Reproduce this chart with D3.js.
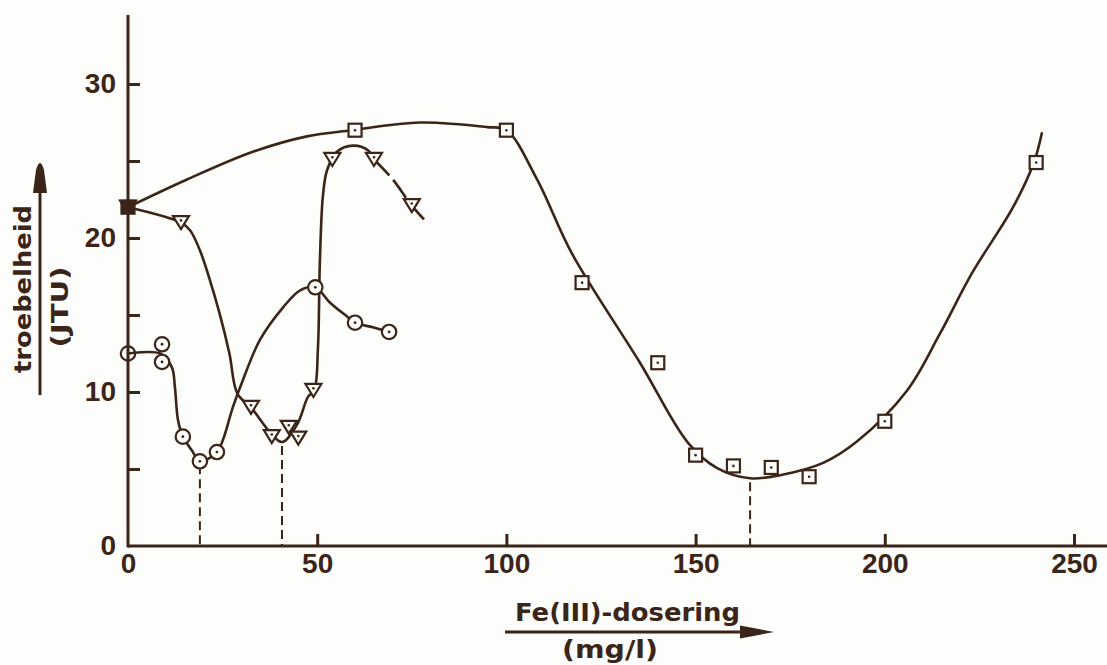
<!DOCTYPE html>
<html>
<head>
<meta charset="utf-8">
<script src="https://cdn.jsdelivr.net/npm/d3@7"></script>
<style>
  html, body { margin: 0; padding: 0; background: #fdfdfb; }
  svg { display: block; }
</style>
</head>
<body>
<svg id="chart" width="1107" height="665"></svg>
<script>
// Turbidity (JTU) of three water samples against the Fe(III) dose (mg/l)

// measured points, square series
const squareDose = [0, 60, 100, 120, 140, 150, 160, 170, 180, 200, 240];
const squareJTU  = [22.0, 27.0, 27.0, 17.1, 11.9, 5.9, 5.2, 5.1, 4.5, 8.1, 24.9];

// measured points, triangle series
const triangleDose = [0, 14, 32.5, 38, 42.5, 45, 49, 54, 65, 75];
const triangleJTU  = [22.0, 21.0, 9.0, 7.1, 7.7, 7.0, 10.1, 25.1, 25.1, 22.1];

// measured points, circle series
const circleDose = [0, 9, 9, 14.5, 19, 23.5, 49.5, 60, 69];
const circleJTU  = [12.5, 13.1, 11.95, 7.1, 5.5, 6.1, 16.8, 14.5, 13.9];

// hand-faired curves through the measurements
const squareCurveDose = [0, 15.6, 33, 47.3, 59.2, 77.2, 94.9, 100, 108.1, 117.3, 135.3, 148, 155.7, 164.4, 172.3, 183.7, 192.7, 205.9, 214.6, 223, 233.9, 239.4, 241.5];
const squareCurveJTU  = [22.0, 23.8, 25.6, 26.6, 27.0, 27.5, 27.2, 27.0, 23.8, 19.0, 11.9, 6.7, 5.06, 4.4, 4.6, 5.4, 6.8, 10.1, 13.8, 17.7, 22.0, 24.9, 26.8];

const triangleCurveDose = [0, 14, 16.4, 19.0, 21.6, 24.2, 26.8, 28.9, 32.5, 37.5, 40.7, 44.7, 47.6, 49.2, 50.2, 50.7, 51.5, 52.6, 55.2, 59.5, 63.4, 65];
const triangleCurveJTU  = [22.0, 21.0, 20.5, 19.2, 17.3, 15.1, 12.5, 9.9, 9.0, 7.4, 6.75, 7.9, 9.7, 10.1, 12.9, 18.4, 22.7, 24.4, 25.6, 26.0, 25.7, 25.1];

// uncertain continuation of the triangle curve (dashed)
const triangleTailDose = [65, 70, 75, 79];
const triangleTailJTU  = [25.1, 23.8, 22.1, 21.0];

const circleCurveDose = [0, 8.5, 11.6, 12.4, 13.2, 14.5, 16.9, 19.0, 23.5, 25.1, 27.7, 30.4, 34.9, 41.0, 45.5, 49.4, 53.4, 57.9, 60, 64.7, 69.2];
const circleCurveJTU  = [12.5, 12.5, 11.6, 10.3, 8.2, 7.1, 6.2, 5.5, 6.1, 6.9, 9.0, 10.8, 13.4, 15.5, 16.6, 16.8, 15.8, 14.9, 14.5, 14.2, 13.9];

// optimum doses, marked by dashed drop lines
const optimumDose = [19, 40.7, 164.4];
const optimumJTU  = [5.5, 6.75, 4.4];

// axis ticks and labels
const xTickValues = [0, 50, 100, 150, 200, 250];
const yTickValues = [0, 5, 10, 15, 20, 25, 30];
const yTickLabels = [0, 10, 20, 30];

const INK = "#3b2518";
const PAPER = "#fdfdfb";
const FONT = "'Liberation Sans', Arial, Helvetica, sans-serif";
const TITLE_FONT = "'DejaVu Sans', Verdana, sans-serif";

const svg = d3.select("#chart");
svg.append("rect").attr("width", 1107).attr("height", 665).attr("fill", PAPER);

const x = d3.scaleLinear().domain([0, 250]).range([128, 1074]);
const y = d3.scaleLinear().domain([0, 30]).range([546, 84]);

// ---- axes ----
const xAxis = d3.axisBottom(x)
  .tickValues(xTickValues)
  .tickSize(-12)
  .tickSizeOuter(0)
  .tickPadding(7)
  .tickFormat(d3.format("d"));

const yAxis = d3.axisLeft(y)
  .tickValues(yTickValues)
  .tickSize(-12)
  .tickSizeOuter(0)
  .tickPadding(12)
  .tickFormat(d => yTickLabels.includes(d) ? String(d) : "");

const gx = svg.append("g").attr("transform", `translate(0,${y(0)})`).call(xAxis);
const gy = svg.append("g").attr("transform", `translate(${x(0)},0)`).call(yAxis);

[gx, gy].forEach(g => {
  g.select(".domain").remove();
  g.selectAll(".tick line").attr("stroke", INK).attr("stroke-width", 3);
  g.selectAll(".tick text")
    .attr("fill", INK)
    .style("font-family", FONT)
    .style("font-weight", "bold")
    .style("font-size", "28px");
});
gx.selectAll(".tick").filter(d => d === 0).select("line").remove();
gy.selectAll(".tick").filter(d => d === 0).select("line").remove();

// ---- drop lines at the optimum doses ----
svg.append("g").selectAll("line")
  .data(d3.zip(optimumDose, optimumJTU))
  .join("line")
  .attr("x1", d => x(d[0])).attr("x2", d => x(d[0]))
  .attr("y1", d => y(d[1]) + 4).attr("y2", y(0))
  .attr("stroke", INK).attr("stroke-width", 2)
  .attr("stroke-dasharray", "9,5");

// ---- curves ----
const line = d3.line()
  .x(d => x(d[0]))
  .y(d => y(d[1]))
  .curve(d3.curveCatmullRom.alpha(0.5));

const curves = svg.append("g").attr("fill", "none").attr("stroke", INK)
  .attr("stroke-width", 2.6).attr("stroke-linecap", "round").attr("stroke-linejoin", "round");

curves.append("path").attr("d", line(d3.zip(squareCurveDose, squareCurveJTU)));
curves.append("path").attr("d", line(d3.zip(triangleCurveDose, triangleCurveJTU)));
curves.append("path").attr("d", line(d3.zip(circleCurveDose, circleCurveJTU)));
curves.append("path").attr("d", line(d3.zip(triangleTailDose, triangleTailJTU)))
  .attr("stroke-dasharray", "22,6").attr("stroke-linecap", "butt");

// ---- markers ----
const markers = svg.append("g").attr("stroke", INK).attr("stroke-width", 2.2);

// circles (the zero-dose one sits on the axis, left open)
const cg = markers.selectAll("g.circ")
  .data(d3.zip(circleDose, circleJTU))
  .join("g").attr("class", "circ")
  .attr("transform", d => `translate(${x(d[0])},${y(d[1])})`);
cg.append("circle").attr("r", 7.2).attr("fill", (d, i) => i === 0 ? "none" : PAPER);
cg.filter((d, i) => i > 0).append("circle").attr("r", 1.4).attr("fill", INK).attr("stroke", "none");

// triangles (pointing down)
const tg = markers.selectAll("g.tri")
  .data(d3.zip(triangleDose, triangleJTU))
  .join("g").attr("class", "tri")
  .attr("transform", d => `translate(${x(d[0])},${y(d[1])})`);
tg.append("path").attr("d", "M-8,-6.5L8,-6.5L0,6.5Z")
  .attr("fill", (d, i) => i === 0 ? INK : PAPER)
  .attr("stroke-linejoin", "miter");
tg.filter((d, i) => i > 0).append("circle").attr("cy", -2.2).attr("r", 1.3).attr("fill", INK).attr("stroke", "none");

// squares
const sg = markers.selectAll("g.sq")
  .data(d3.zip(squareDose, squareJTU))
  .join("g").attr("class", "sq")
  .attr("transform", d => `translate(${x(d[0])},${y(d[1])})`);
sg.append("rect").attr("x", -6.5).attr("y", -6.5).attr("width", 13).attr("height", 13)
  .attr("fill", (d, i) => i === 0 ? INK : PAPER);
sg.filter((d, i) => i > 0).append("circle").attr("r", 1.3).attr("fill", INK).attr("stroke", "none");

// axis lines, running past the last tick
svg.append("line")
  .attr("x1", x(0)).attr("x2", 1107)
  .attr("y1", y(0)).attr("y2", y(0))
  .attr("stroke", INK).attr("stroke-width", 3);
svg.append("line")
  .attr("x1", x(0)).attr("x2", x(0))
  .attr("y1", y(0) + 1.5).attr("y2", 15)
  .attr("stroke", INK).attr("stroke-width", 3);

// ---- axis titles ----
const titles = svg.append("g").attr("fill", INK)
  .style("font-family", TITLE_FONT).style("font-weight", "bold");

// horizontal title with arrow
titles.append("text")
  .attr("x", 515).attr("y", 621)
  .attr("textLength", 225).attr("lengthAdjust", "spacingAndGlyphs")
  .style("font-size", "25px")
  .text("Fe(III)-dosering");
titles.append("text")
  .attr("x", 562).attr("y", 658)
  .attr("textLength", 96).attr("lengthAdjust", "spacingAndGlyphs")
  .style("font-size", "25px")
  .text("(mg/l)");
svg.append("line")
  .attr("x1", 505).attr("x2", 748).attr("y1", 632).attr("y2", 632)
  .attr("stroke", INK).attr("stroke-width", 3);
svg.append("path")
  .attr("d", "M740,625.5L774,632L740,638.5Z")
  .attr("fill", INK);

// vertical title with arrow
titles.append("text")
  .attr("transform", "translate(31,289) rotate(-90)")
  .attr("text-anchor", "middle")
  .attr("textLength", 168).attr("lengthAdjust", "spacingAndGlyphs")
  .style("font-size", "23px")
  .text("troebelheid");
titles.append("text")
  .attr("transform", "translate(68,307) rotate(-90)")
  .attr("text-anchor", "middle")
  .attr("textLength", 81).attr("lengthAdjust", "spacingAndGlyphs")
  .style("font-size", "23px")
  .text("(JTU)");
svg.append("line")
  .attr("x1", 40).attr("x2", 40).attr("y1", 395).attr("y2", 185)
  .attr("stroke", INK).attr("stroke-width", 3);
svg.append("path")
  .attr("d", "M33,193L36,170Q40,156 44,170L47,193Z")
  .attr("fill", INK);
</script>
</body>
</html>
